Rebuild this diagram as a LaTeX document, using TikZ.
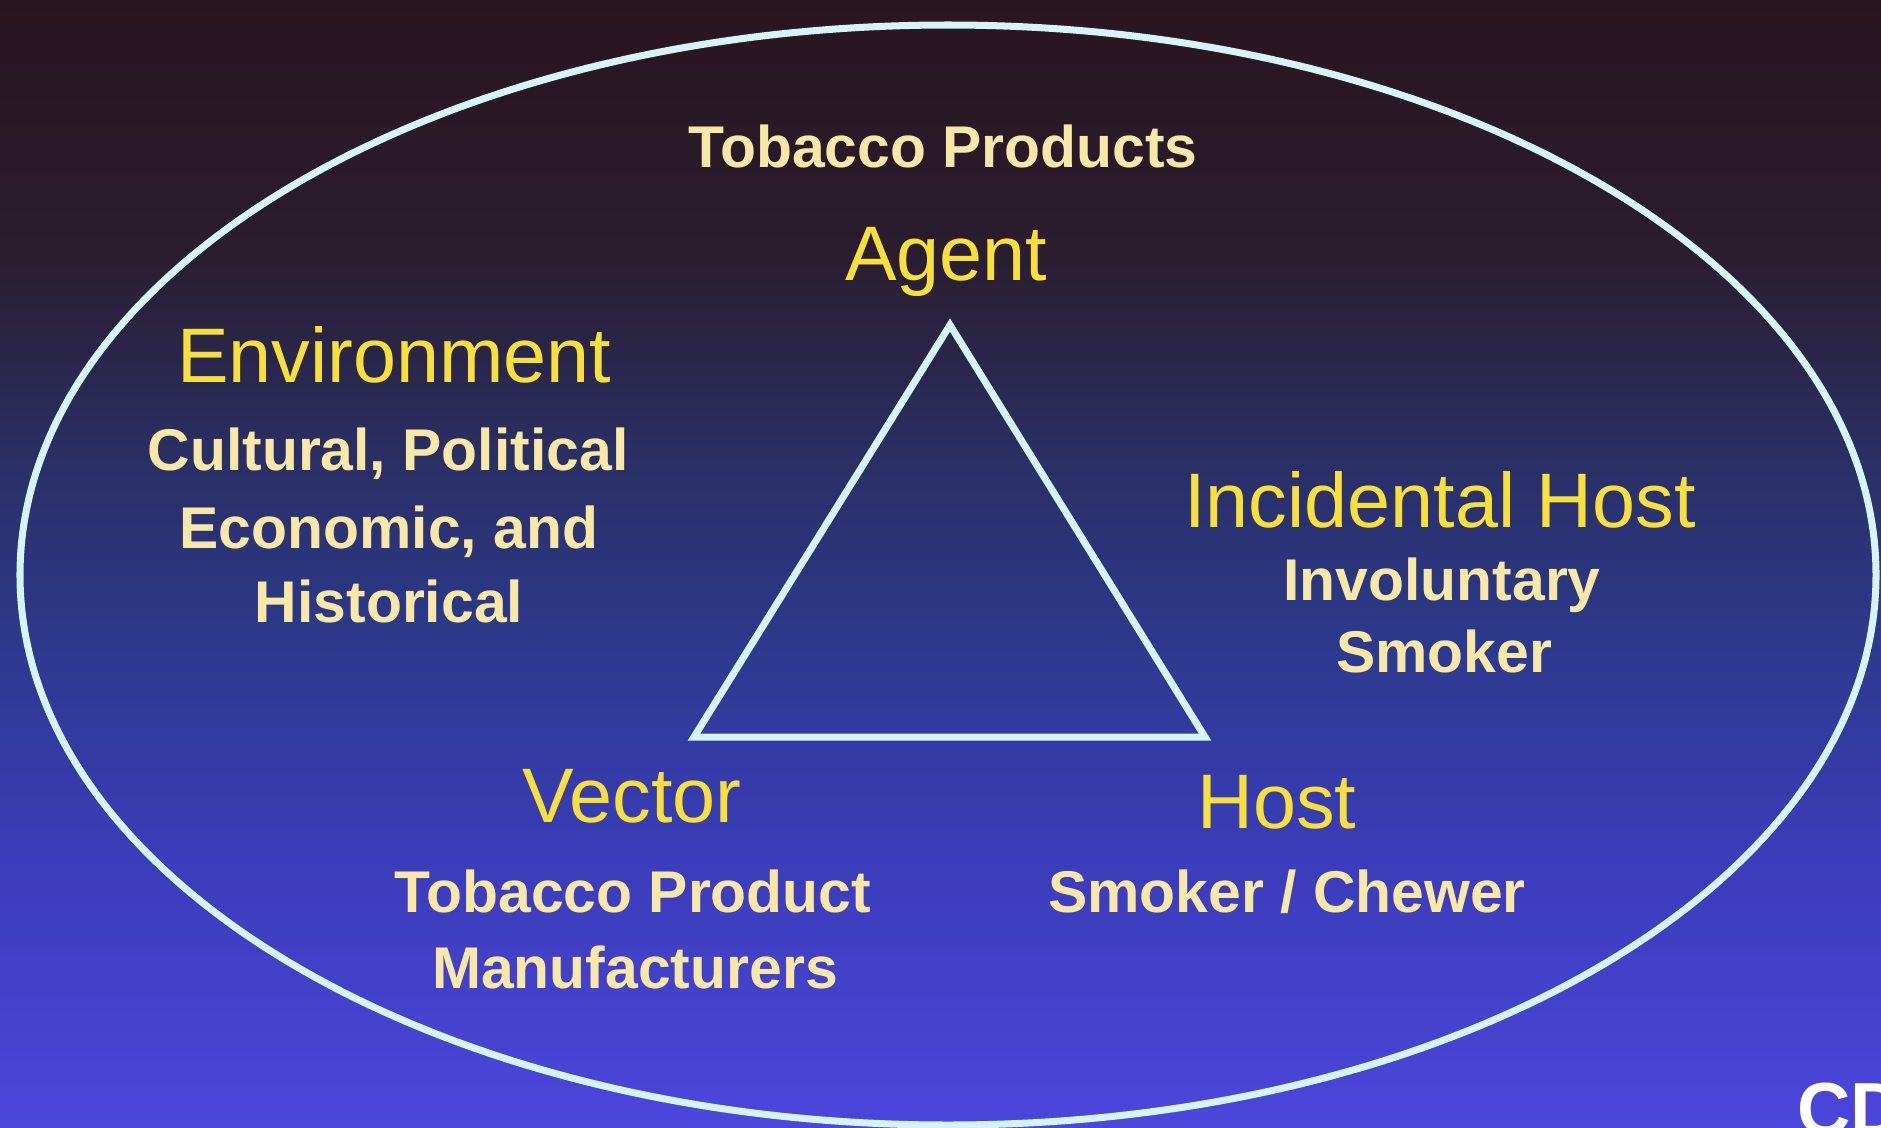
\documentclass[tikz,border=0pt]{standalone}
\usepackage{fontspec}
\setmainfont{Liberation Sans}
\definecolor{bgA}{HTML}{2A1420}
\definecolor{bgB}{HTML}{2A1D2E}
\definecolor{bgC}{HTML}{2A2E62}
\definecolor{bgD}{HTML}{2C3A8E}
\definecolor{bgE}{HTML}{3A3CB8}
\definecolor{bgF}{HTML}{4C46DC}
\definecolor{rim}{HTML}{D4F4F6}
\definecolor{headyellow}{HTML}{F8E03C}
\definecolor{subcream}{HTML}{F8E8A8}
\begin{document}
\begin{tikzpicture}[
    head/.style={text=headyellow, font=\fontsize{44}{50}\selectfont, anchor=base, inner sep=0pt},
    sub/.style={text=subcream, font=\bfseries\fontsize{33.5}{38}\selectfont, anchor=base, inner sep=0pt}]
    \def\x{0.02}
    \def\y{-0.02}
    \useasboundingbox (0,0) rectangle (1881*\x, 1127*\y);
    \clip (0,0) rectangle (1881*\x, 1127*\y);
    \shade[top color=bgA, bottom color=bgB] (0,0) rectangle (1881*\x, 251*\y);
    \shade[top color=bgB, bottom color=bgC] (0, 250*\y) rectangle (1881*\x, 451*\y);
    \shade[top color=bgC, bottom color=bgD] (0, 450*\y) rectangle (1881*\x, 651*\y);
    \shade[top color=bgD, bottom color=bgE] (0, 650*\y) rectangle (1881*\x, 851*\y);
    \shade[top color=bgE, bottom color=bgF] (0, 850*\y) rectangle (1881*\x, 1127*\y);
    \draw[line width=4pt, rim] (948*\x, 575*\y) ellipse [x radius=928*\x, y radius=550*\x];
    \coordinate (T_0) at (950*\x, 325*\y);
    \coordinate (T_1) at (694*\x, 737*\y);
    \coordinate (T_2) at (1205*\x, 737*\y);
    \draw[line width=4pt, rim, line join=miter] (T_0) -- (T_1) -- (T_2) -- cycle;
    \node[sub] (Ag_1) at (943*\x, 167*\y) {Tobacco Products};
    \node[head] (Ag_0) at (946*\x, 280*\y) {Agent};
    \node[head] (Env_0) at (394*\x, 382*\y) {Environment};
    \node[sub] (Env_1) at (388*\x, 470*\y) {Cultural, Political};
    \node[sub] (Env_2) at (389*\x, 548*\y) {Economic, and};
    \node[sub] (Env_3) at (389*\x, 622*\y) {Historical};
    \node[head] (Inc_0) at (1440*\x, 527*\y) {Incidental Host};
    \node[sub] (Inc_1) at (1442*\x, 600*\y) {Involuntary};
    \node[sub] (Inc_2) at (1444*\x, 672*\y) {Smoker};
    \node[head] (Vec_0) at (632*\x, 822*\y) {Vector};
    \node[sub] (Vec_1) at (633*\x, 912*\y) {Tobacco Product};
    \node[sub] (Vec_2) at (635*\x, 988*\y) {Manufacturers};
    \node[head] (Host_0) at (1277*\x, 828*\y) {Host};
    \node[sub] (Host_1) at (1287*\x, 912*\y) {Smoker / Chewer};
    \node[sub, anchor=base west, text=white, font=\bfseries\fontsize{42}{48}\selectfont] (CD) at (1797*\x, 1134*\y) {CD};
\end{tikzpicture}
\end{document}
